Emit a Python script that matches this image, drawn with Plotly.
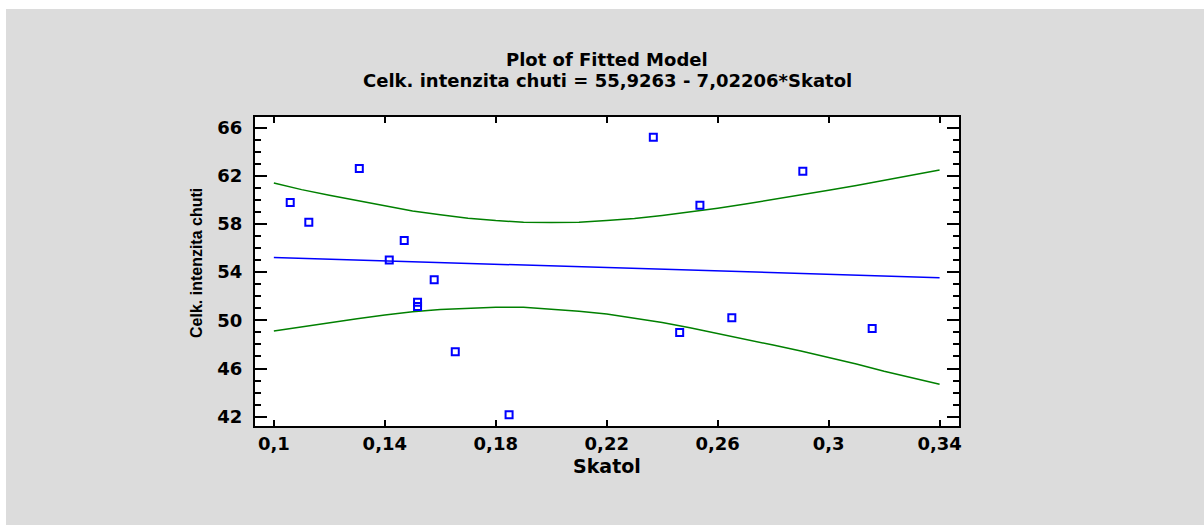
import plotly.graph_objects as go

# ---- data ----
skatol = [0.1059, 0.1126, 0.1308, 0.1416, 0.1470, 0.1518, 0.1518, 0.1578,
          0.1654, 0.1848, 0.2368, 0.2463, 0.2536, 0.2651, 0.2907, 0.3157]
intenzita = [59.78, 58.15, 62.60, 55.00, 56.63, 51.51, 51.16, 53.36,
             47.39, 42.17, 65.20, 49.00, 59.56, 50.21, 62.38, 49.33]

fit_x = [0.10, 0.34]
fit_y = [55.22, 53.54]

band_x = [0.10, 0.11, 0.12, 0.13, 0.14, 0.15, 0.16, 0.17, 0.18, 0.19, 0.20, 0.21, 0.22,
          0.23, 0.24, 0.25, 0.26, 0.27, 0.28, 0.29, 0.30, 0.31, 0.32, 0.33, 0.34]
band_upper = [61.40, 60.85, 60.38, 59.93, 59.49, 59.08, 58.76, 58.48, 58.28, 58.14, 58.12,
              58.14, 58.28, 58.45, 58.70, 58.98, 59.30, 59.65, 60.02, 60.42, 60.80, 61.20,
              61.62, 62.04, 62.48]
band_lower = [49.12, 49.48, 49.80, 50.14, 50.45, 50.72, 50.90, 51.02, 51.08, 51.08, 50.92,
              50.75, 50.52, 50.20, 49.82, 49.38, 48.92, 48.45, 47.95, 47.45, 46.92, 46.38,
              45.78, 45.22, 44.69]

x_ticks = [0.10, 0.14, 0.18, 0.22, 0.26, 0.30, 0.34]
x_tick_labels = ["0,1", "0,14", "0,18", "0,22", "0,26", "0,3", "0,34"]
y_ticks = [42, 46, 50, 54, 58, 62, 66]
y_tick_labels = ["42", "46", "50", "54", "58", "62", "66"]

title_1 = "Plot of Fitted Model"
title_2 = "Celk. intenzita chuti = 55,9263 - 7,02206*Skatol"
x_title = "Skatol"
y_title = "Celk. intenzita chuti"

# ---- figure ----
GREEN = "#008000"
BLUE = "#0000ff"
GRAY = "#dcdcdc"
FONT = "DejaVu Sans"

fig = go.Figure()
fig.add_trace(go.Scatter(x=band_x, y=band_upper, mode="lines",
                         line=dict(color=GREEN, width=1.5), hoverinfo="skip"))
fig.add_trace(go.Scatter(x=band_x, y=band_lower, mode="lines",
                         line=dict(color=GREEN, width=1.5), hoverinfo="skip"))
fig.add_trace(go.Scatter(x=fit_x, y=fit_y, mode="lines",
                         line=dict(color=BLUE, width=1.5)))
fig.add_trace(go.Scatter(x=skatol, y=intenzita, mode="markers",
                         marker=dict(symbol="square-open", size=7, color=BLUE,
                                     line=dict(color=BLUE, width=2))))

W, H = 1204, 525
L, R, T, B = 255, 245, 117, 99
pw, ph = W - L - R, H - T - B


def px(xp):
    return (xp - L) / pw


def py(yp):
    return (H - B - yp) / ph


axis_common = dict(showline=True, linecolor="black", linewidth=2, mirror="allticks",
                   ticks="inside", tickcolor="black", tickwidth=2, showgrid=False,
                   zeroline=False,
                   tickfont=dict(family=FONT, size=18, color="black", weight="bold"))

fig.update_xaxes(range=[0.0932, 0.3470], tickvals=x_ticks, ticktext=x_tick_labels,
                 ticklen=6, ticklabelstandoff=0, **axis_common)
fig.update_yaxes(range=[41.23, 66.88], tickvals=y_ticks, ticktext=y_tick_labels,
                 ticklen=12, ticklabelstandoff=7,
                 minor=dict(dtick=1, tick0=42, ticks="inside", ticklen=6, tickwidth=2,
                            tickcolor="black"),
                 **axis_common)

fig.update_layout(
    width=W, height=H,
    margin=dict(l=L, r=R, t=T, b=B, pad=0),
    paper_bgcolor=GRAY, plot_bgcolor="white",
    showlegend=False,
    shapes=[
        dict(type="rect", xref="paper", yref="paper", x0=px(0), x1=px(W), y0=py(9), y1=py(0),
             fillcolor="white", line=dict(width=0), layer="below"),
        dict(type="rect", xref="paper", yref="paper", x0=px(0), x1=px(6), y0=py(H), y1=py(0),
             fillcolor="white", line=dict(width=0), layer="below"),
    ],
    annotations=[
        dict(text=title_1, xref="paper", yref="paper", x=0.5, y=py(59), xanchor="center",
             yanchor="middle", showarrow=False,
             font=dict(family=FONT, size=18, color="black", weight="bold")),
        dict(text=title_2, xref="paper", yref="paper", x=0.5, y=py(80), xanchor="center",
             yanchor="middle", showarrow=False,
             font=dict(family=FONT, size=18, color="black", weight="bold")),
        dict(text=x_title, xref="paper", yref="paper", x=0.5, y=py(466), xanchor="center",
             yanchor="middle", showarrow=False,
             font=dict(family=FONT, size=19, color="black", weight="bold")),
        dict(text=y_title, xref="paper", yref="paper", x=px(196), y=py(263),
             xanchor="center", yanchor="middle", textangle=-90, showarrow=False,
             font=dict(family="Liberation Sans", size=16,
                       color="black", weight="bold")),
    ],
)

fig.write_html("out.html")
